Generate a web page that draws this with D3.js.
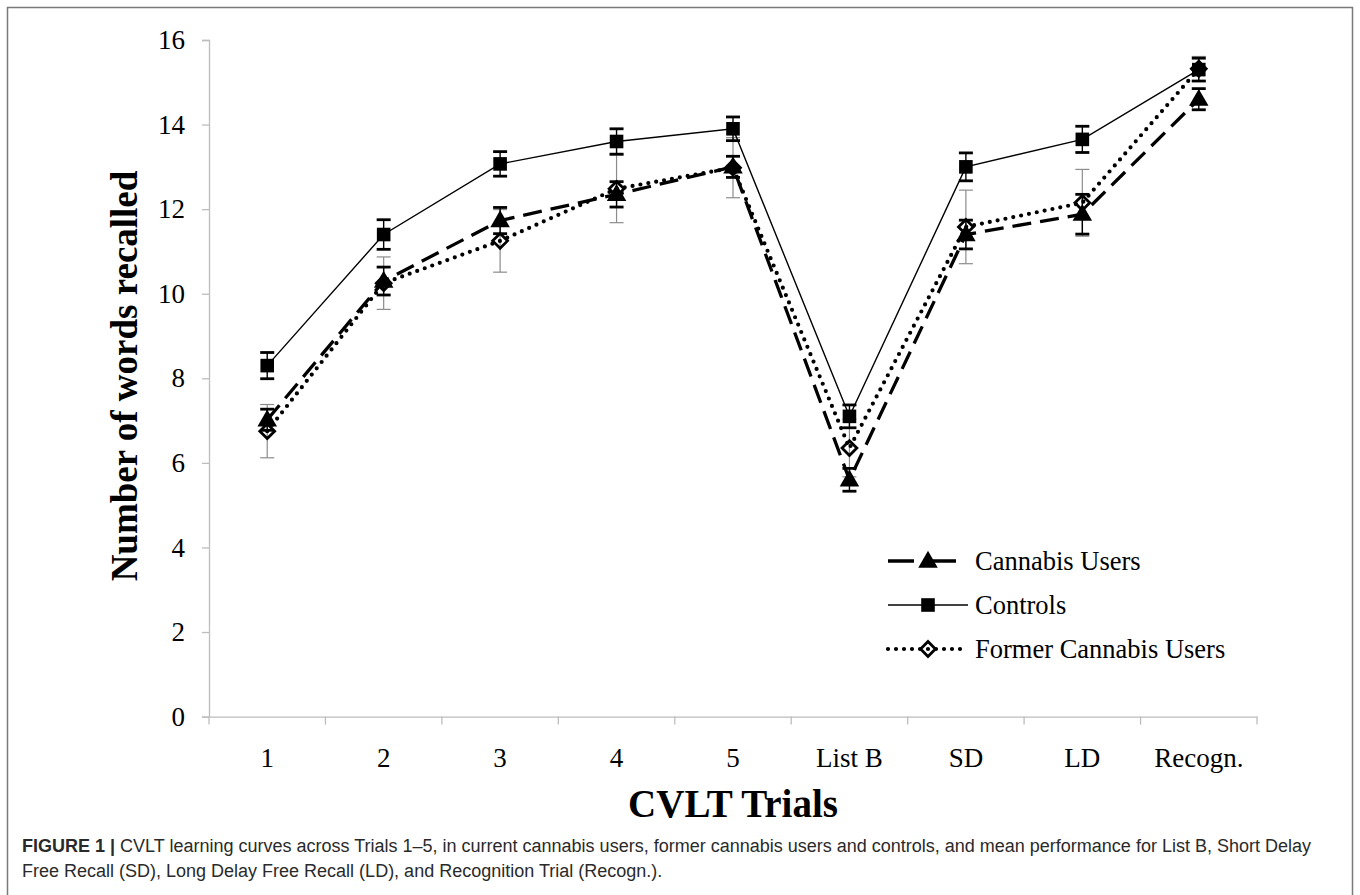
<!DOCTYPE html>
<html>
<head>
<meta charset="utf-8">
<script src="https://cdn.jsdelivr.net/npm/d3@7"></script>
<style>
  body { margin: 0; background: #fff; }
  .serif { font-family: "Liberation Serif", "Times New Roman", serif; }
  .cap { font-family: "Liberation Sans", Arial, sans-serif; }
</style>
</head>
<body>
<div id="chart"></div>
<script>
// categories on the x axis
var trials = ['1', '2', '3', '4', '5', 'List B', 'SD', 'LD', 'Recogn.'];

// mean words recalled
var controls = [8.3, 11.4, 13.07, 13.6, 13.9, 7.1, 13.0, 13.65, 15.3];
var cannabis = [7.02, 10.3, 11.73, 12.35, 13.0, 5.6, 11.4, 11.88, 14.6];
var former = [6.75, 10.25, 11.25, 12.48, 12.98, 6.35, 11.58, 12.15, 15.32];

// error bar half widths
var controlsErr = [0.31, 0.35, 0.29, 0.3, 0.28, 0.27, 0.33, 0.31, 0.27];
var cannabisErr = [0.25, 0.33, 0.31, 0.3, 0.25, 0.27, 0.34, 0.47, 0.25];
var formerErr = [0.63, 0.62, 0.74, 0.8, 0.71, 0.68, 0.87, 0.79, 0.29];

var yTicks = [0, 2, 4, 6, 8, 10, 12, 14, 16];

var width = 1360, height = 895;

var svg = d3.select('#chart').append('svg')
  .attr('width', width)
  .attr('height', height);

// outer frame of the figure
svg.append('rect')
  .attr('x', 7.5).attr('y', 7.5)
  .attr('width', 1345).attr('height', 900)
  .attr('fill', 'none')
  .attr('stroke', '#7a7a7a')
  .attr('stroke-width', 1.5);

var x = d3.scaleBand().domain(trials).range([209, 1257]);
var y = d3.scaleLinear().domain([0, 16]).range([716.6, 40]);

// y axis
var yAxis = svg.append('g')
  .attr('transform', 'translate(209,0)')
  .call(d3.axisLeft(y).tickValues(yTicks).tickSize(7).tickPadding(17));
yAxis.select('.domain').attr('stroke', '#bdbdbd').attr('stroke-width', 1.3);
yAxis.selectAll('.tick line').attr('stroke', '#bdbdbd').attr('stroke-width', 1.3);
yAxis.selectAll('.tick text')
  .attr('class', 'serif')
  .style('font-size', '27px')
  .attr('fill', '#000');

// x axis: labels at band centres, ticks at the band edges
var xAxis = svg.append('g')
  .attr('transform', 'translate(0,' + y(0) + ')')
  .call(d3.axisBottom(x).tickSize(0).tickPadding(31));
xAxis.select('.domain').attr('stroke', '#bdbdbd').attr('stroke-width', 1.3);
xAxis.selectAll('.tick text')
  .attr('class', 'serif')
  .style('font-size', '27px')
  .attr('fill', '#000');

var edges = trials.map(function(t) { return x(t); }).concat([x.range()[1]]);
xAxis.selectAll('.edge')
  .data(edges)
  .enter().append('line')
  .attr('class', 'edge')
  .attr('x1', function(d) { return d; })
  .attr('x2', function(d) { return d; })
  .attr('y1', 0).attr('y2', 8)
  .attr('stroke', '#bdbdbd')
  .attr('stroke-width', 1.3);

// axis titles
svg.append('text')
  .attr('class', 'serif')
  .attr('transform', 'translate(137,376) rotate(-90)')
  .attr('text-anchor', 'middle')
  .style('font-size', '37px')
  .style('font-weight', 'bold')
  .text('Number of words recalled');

svg.append('text')
  .attr('class', 'serif')
  .attr('x', 733).attr('y', 817)
  .attr('text-anchor', 'middle')
  .style('font-size', '39px')
  .style('font-weight', 'bold')
  .text('CVLT Trials');

function cx(i) { return x(trials[i]) + x.bandwidth() / 2; }

var series = [
  { name: 'Former Cannabis Users', vals: former, err: formerErr, marker: 'diamond',
    dash: '0,8', width: 4.2, cap: 'round', errColor: '#8c8c8c', errWidth: 1.2 },
  { name: 'Cannabis Users', vals: cannabis, err: cannabisErr, marker: 'triangle',
    dash: '19,9', width: 3.3, cap: 'butt', errColor: '#000', errWidth: 2.8 },
  { name: 'Controls', vals: controls, err: controlsErr, marker: 'square',
    dash: null, width: 1.4, cap: 'butt', errColor: '#000', errWidth: 2.8 }
];

var line = d3.line()
  .x(function(d, i) { return cx(i); })
  .y(function(d) { return y(d); });

function drawMarker(g, type, px, py) {
  if (type === 'square') {
    g.append('path')
      .attr('d', d3.symbol().type(d3.symbolSquare).size(185)())
      .attr('transform', 'translate(' + px + ',' + py + ')')
      .attr('fill', '#000');
  } else if (type === 'triangle') {
    g.append('path')
      .attr('d', d3.symbol().type(d3.symbolTriangle).size(165)())
      .attr('transform', 'translate(' + px + ',' + (py + 1) + ')')
      .attr('fill', '#000');
  } else {
    g.append('path')
      .attr('d', d3.symbol().type(d3.symbolDiamond2).size(140)())
      .attr('transform', 'translate(' + px + ',' + py + ')')
      .attr('fill', 'none')
      .attr('stroke', '#000')
      .attr('stroke-width', 2.8);
  }
}

// error bars first (under lines)
series.forEach(function(s) {
  var eb = svg.append('g').attr('class', 'err');
  s.vals.forEach(function(v, i) {
    var px = cx(i), lo = y(v - s.err[i]), hi = y(v + s.err[i]);
    eb.append('line').attr('x1', px).attr('x2', px).attr('y1', lo).attr('y2', hi)
      .attr('stroke', s.errColor).attr('stroke-width', s.errWidth > 2 ? 1.4 : s.errWidth);
    [lo, hi].forEach(function(yy) {
      eb.append('line').attr('x1', px - 7).attr('x2', px + 7).attr('y1', yy).attr('y2', yy)
        .attr('stroke', s.errColor).attr('stroke-width', s.errWidth);
    });
  });
});

series.forEach(function(s) {
  var g = svg.append('g');
  g.append('path')
    .datum(s.vals)
    .attr('d', line)
    .attr('fill', 'none')
    .attr('stroke', '#000')
    .attr('stroke-width', s.width)
    .attr('stroke-linecap', s.cap)
    .attr('stroke-dasharray', s.dash);
  s.vals.forEach(function(v, i) { drawMarker(g, s.marker, cx(i), y(v)); });
});

// legend
var legendOrder = [series[1], series[2], series[0]];
var legend = svg.append('g');
legendOrder.forEach(function(s, i) {
  var ly = 561 + i * 44;
  legend.append('line')
    .attr('x1', 888).attr('x2', 968).attr('y1', ly).attr('y2', ly)
    .attr('stroke', '#000')
    .attr('stroke-width', s.width)
    .attr('stroke-linecap', s.cap)
    .attr('stroke-dasharray', s.name === 'Cannabis Users' ? '26,16' : s.dash);
  drawMarker(legend, s.marker, 928, ly);
  legend.append('text')
    .attr('class', 'serif')
    .attr('x', 975).attr('y', ly + 9)
    .style('font-size', '26.5px')
    .text(s.name);
});

// caption
var cap1 = svg.append('text').attr('class', 'cap')
  .attr('x', 22).attr('y', 852)
  .style('font-size', '18px')
  .attr('fill', '#2a2a2a');
cap1.append('tspan').style('font-weight', 'bold').text('FIGURE 1 | ');
cap1.append('tspan').text('CVLT learning curves across Trials 1\u20135, in current cannabis users, former cannabis users and controls, and mean performance for List B, Short Delay');

svg.append('text').attr('class', 'cap')
  .attr('x', 22).attr('y', 877)
  .style('font-size', '18px')
  .attr('fill', '#2a2a2a')
  .text('Free Recall (SD), Long Delay Free Recall (LD), and Recognition Trial (Recogn.).');
</script>
</body>
</html>
